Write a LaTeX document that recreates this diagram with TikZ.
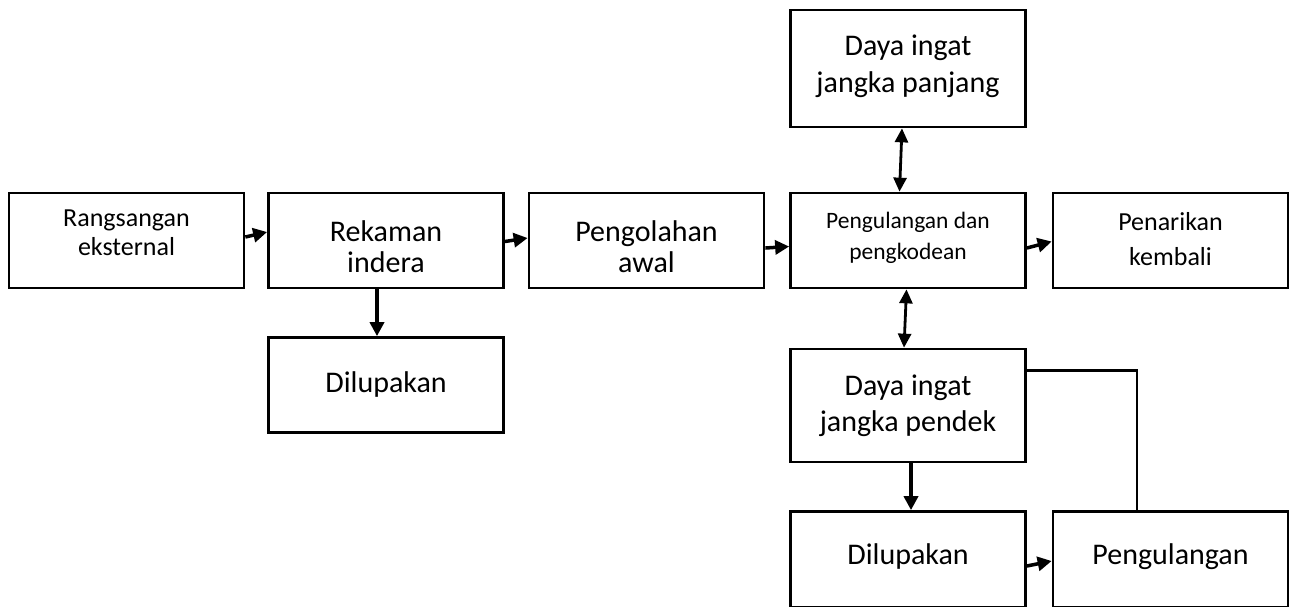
\documentclass[tikz,border=0pt]{standalone}
\usepackage{fontspec}
\setmainfont{Carlito}
\usetikzlibrary{arrows.meta}

\begin{document}
\begin{tikzpicture}[
        x=1pt, y=-1pt,
        box/.style={rectangle, draw=black, line width=2.7pt, inner sep=0pt},
        rowbox/.style={box, minimum width=235pt, minimum height=95pt},
        bigtext/.style={align=center, font=\fontsize{30}{31}\selectfont},
        midtext/.style={align=center, font=\fontsize{26}{29}\selectfont},
        smalltext/.style={align=center, font=\fontsize{23.5}{31}\selectfont},
        arrow/.style={line width=3.5pt, -{Triangle[length=14pt,width=14pt]}},
        twoway/.style={line width=2.8pt, {Triangle[length=14pt,width=13pt]}-{Triangle[length=14pt,width=13pt]}},
        ]

        \useasboundingbox (0,0) rectangle (1292,606);

        % Top row
        \node[rowbox, label={[midtext, yshift=8pt]center:Rangsangan\\eksternal}] (rang) at (126.5,240.5) {};
        \node[rowbox, label={[bigtext, yshift=-6pt]center:Rekaman\\indera}] (rek) at (386,240.5) {};
        \node[rowbox, label={[bigtext, yshift=-6pt]center:Pengolahan\\awal}] (olah) at (646.5,240.5) {};
        \node[rowbox, label={[smalltext, yshift=3pt]center:Pengulangan dan\\pengkodean}] (kode) at (908,240.5) {};
        \node[rowbox, label={[midtext, font=\fontsize{26}{35}\selectfont, yshift=1.5pt]center:Penarikan\\kembali}] (tarik) at (1170.5,240.5) {};

        % Memory
        \node[box, minimum width=235pt, minimum height=117pt,
              label={[bigtext, font=\fontsize{30}{37}\selectfont, yshift=2pt]center:Daya ingat\\jangka panjang}] (panjang) at (908,68.5) {};
        \node[box, minimum width=235pt, minimum height=113pt,
              label={[bigtext, font=\fontsize{30}{36}\selectfont]center:Daya ingat\\jangka pendek}] (pendek) at (908,405.5) {};

        % Forgotten and repeated
        \node[rowbox, label={[bigtext, yshift=1pt]center:Dilupakan}] (lupa1) at (386,385) {};
        \node[rowbox, minimum height=96pt, label={[bigtext, yshift=3pt]center:Dilupakan}] (lupa2) at (908,559.5) {};
        \node[rowbox, minimum height=96pt, label={[bigtext, yshift=3pt]center:Pengulangan}] (ulang) at (1170.5,559.5) {};

        % Arrows along the row
        \draw[arrow] ([yshift=3.5pt]rang.east) -- ([yshift=8.5pt]rek.west);
        \draw[arrow] ([yshift=-1pt]rek.east) -- ([yshift=2.5pt]olah.west);
        \draw[arrow] ([yshift=-7.5pt]olah.east) -- ([yshift=-6pt]kode.west);
        \draw[arrow] ([yshift=-7.5pt]kode.east) -- ([yshift=-1pt]tarik.west);

        % Arrows down and up
        \draw[arrow] ([xshift=-9pt]rek.south) -- ([xshift=-9pt]lupa1.north);
        \draw[twoway] ([xshift=-6pt]panjang.south) -- ([xshift=-8.5pt]kode.north);
        \draw[twoway] ([xshift=-1.5pt]kode.south) -- ([xshift=-4pt]pendek.north);
        \draw[arrow] ([xshift=3pt]pendek.south) -- ([xshift=3pt]lupa2.north);
        \draw[arrow] ([yshift=-6.5pt]lupa2.east) -- ([yshift=-1.5pt]ulang.west);

        % Loop back
        \draw[line width=2.5pt] ([yshift=-23pt]pendek.north east) -| ([xshift=-33.5pt]ulang.north);

    \end{tikzpicture}
\end{document}
